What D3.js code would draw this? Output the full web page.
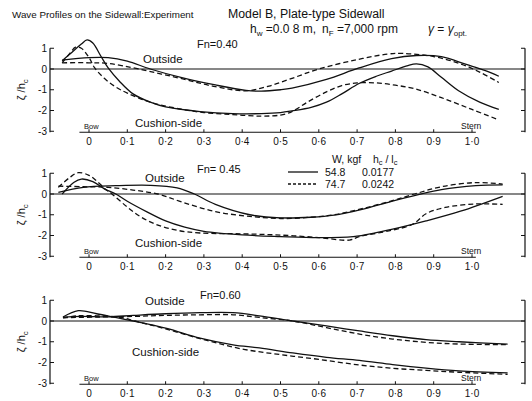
<!DOCTYPE html>
<html><head><meta charset="utf-8">
<script src="https://cdn.jsdelivr.net/npm/d3@7"></script>
<style>body{margin:0;background:#fff}svg{display:block}text{font-family:"Liberation Sans",Arial,sans-serif;fill:#111}</style>
</head><body><svg id="c" width="532" height="401"></svg>
<script>
// ---- data ----
const xTicks = [0,0.1,0.2,0.3,0.4,0.5,0.6,0.7,0.8,0.9,1.0];
const xTickLabels = ["0","0·1","0·2","0·3","0·4","0·5","0·6","0·7","0·8","0·9","1·0"];
const yTicks = [1,0,-1,-2,-3];
const froude = ["Fn=0.40","Fn= 0.45","Fn=0.60"];
const legendW = ["54.8","74.7"];
const legendRatio = ["0.0177","0.0242"];

// Fn = 0.40
const fn40OutsideW548 = [[-0.07,0.43],[0.0,0.55],[0.05,0.55],[0.1,0.38],[0.16,0.0],[0.245,-0.43],[0.33,-0.77],[0.41,-1.03],[0.45,-1.07],[0.5,-1.0],[0.53,-0.92],[0.62,-0.5],[0.705,0.05],[0.79,0.5],[0.855,0.65],[0.92,0.6],[0.985,0.22],[1.035,-0.08],[1.07,-0.35]];
const fn40OutsideW747 = [[-0.07,0.3],[0.0,0.3],[0.05,0.27],[0.13,0.0],[0.245,-0.48],[0.33,-0.85],[0.41,-1.05],[0.47,-0.82],[0.53,-0.45],[0.6,0.0],[0.7,0.45],[0.78,0.72],[0.82,0.75],[0.9,0.6],[0.97,0.25],[1.02,-0.15],[1.07,-0.65]];
const fn40CushionW548 = [[-0.07,0.4],[-0.045,0.8],[-0.02,1.2],[-0.005,1.4],[0.01,1.25],[0.03,0.65],[0.05,0.05],[0.08,-0.6],[0.115,-1.2],[0.16,-1.6],[0.2,-1.83],[0.29,-2.05],[0.375,-2.15],[0.45,-2.15],[0.5,-2.1],[0.53,-2.02],[0.58,-1.85],[0.62,-1.6],[0.66,-1.2],[0.705,-0.7],[0.75,-0.35],[0.79,-0.1],[0.83,0.15],[0.855,0.25],[0.885,0.1],[0.92,-0.4],[0.965,-1.05],[1.02,-1.6],[1.07,-1.95]];
const fn40CushionW747 = [[-0.07,0.3],[-0.05,0.75],[-0.035,1.05],[-0.02,1.0],[0.0,0.55],[0.015,0.05],[0.04,-0.45],[0.07,-0.87],[0.1,-1.16],[0.16,-1.6],[0.245,-1.95],[0.3,-2.1],[0.375,-2.2],[0.45,-2.27],[0.5,-2.22],[0.53,-2.05],[0.57,-1.6],[0.62,-1.1],[0.66,-0.8],[0.7,-0.67],[0.75,-0.67],[0.8,-0.78],[0.85,-0.95],[0.92,-1.38],[1.0,-1.95],[1.07,-2.45]];

// Fn = 0.45
const fn45OutsideW548 = [[-0.08,0.08],[-0.015,0.32],[0.07,0.4],[0.16,0.42],[0.23,0.3],[0.275,0.0],[0.33,-0.5],[0.42,-1.0],[0.5,-1.15],[0.58,-1.12],[0.64,-1.02],[0.71,-0.75],[0.79,-0.35],[0.86,-0.03],[0.92,0.21],[1.01,0.4],[1.08,0.44]];
const fn45OutsideW747 = [[-0.08,0.38],[-0.015,0.35],[0.05,0.32],[0.115,0.19],[0.18,0.0],[0.245,-0.4],[0.33,-0.85],[0.42,-1.08],[0.5,-1.18],[0.58,-1.12],[0.64,-1.0],[0.71,-0.72],[0.79,-0.33],[0.85,0.0],[0.92,0.35],[1.01,0.55],[1.08,0.48]];
const fn45CushionW548 = [[-0.07,0.0],[-0.04,0.55],[-0.02,0.72],[0.01,0.6],[0.04,0.25],[0.07,0.0],[0.1,-0.35],[0.15,-0.85],[0.2,-1.3],[0.25,-1.6],[0.3,-1.8],[0.4,-1.97],[0.5,-2.05],[0.6,-2.1],[0.69,-2.05],[0.75,-1.86],[0.81,-1.62],[0.88,-1.3],[0.97,-0.83],[1.08,-0.11]];
const fn45CushionW747 = [[-0.08,0.32],[-0.05,0.8],[-0.028,1.03],[0.0,0.9],[0.02,0.63],[0.045,0.2],[0.06,0.0],[0.1,-0.63],[0.135,-1.1],[0.18,-1.5],[0.23,-1.75],[0.29,-1.88],[0.4,-1.92],[0.5,-1.98],[0.6,-2.1],[0.68,-2.22],[0.705,-2.06],[0.79,-1.75],[0.845,-1.46],[0.88,-0.95],[0.93,-0.65],[1.01,-0.48],[1.08,-0.5]];

// Fn = 0.60
const fn60OutsideW548 = [[-0.068,0.19],[-0.02,0.22],[0.05,0.2],[0.116,0.27],[0.2,0.35],[0.29,0.4],[0.376,0.4],[0.445,0.25],[0.532,0.0],[0.62,-0.24],[0.706,-0.48],[0.793,-0.71],[0.88,-0.9],[0.966,-1.0],[1.093,-1.11]];
const fn60OutsideW747 = [[-0.068,0.16],[0.02,0.19],[0.116,0.22],[0.2,0.27],[0.29,0.3],[0.376,0.3],[0.445,0.17],[0.532,0.0],[0.62,-0.32],[0.706,-0.63],[0.793,-0.87],[0.88,-1.03],[0.966,-1.11],[1.093,-1.14]];
const fn60CushionW548 = [[-0.068,0.19],[-0.028,0.5],[0.02,0.35],[0.072,0.16],[0.116,0.0],[0.203,-0.36],[0.29,-0.83],[0.376,-1.15],[0.445,-1.3],[0.532,-1.54],[0.62,-1.75],[0.706,-1.9],[0.793,-2.1],[0.88,-2.27],[0.966,-2.4],[1.093,-2.5]];
const fn60CushionW747 = [[-0.068,0.15],[-0.03,0.25],[0.02,0.25],[0.08,0.18],[0.12,0.0],[0.2,-0.38],[0.3,-0.9],[0.4,-1.35],[0.5,-1.62],[0.6,-1.85],[0.706,-2.12],[0.793,-2.28],[0.88,-2.38],[0.966,-2.47],[1.093,-2.57]];

const panels = [
  {fn: froude[0], series:[fn40OutsideW548, fn40OutsideW747, fn40CushionW548, fn40CushionW747]},
  {fn: froude[1], series:[fn45OutsideW548, fn45OutsideW747, fn45CushionW548, fn45CushionW747]},
  {fn: froude[2], series:[fn60OutsideW548, fn60OutsideW747, fn60CushionW548, fn60CushionW747]}
];

// ---- layout ----
const svg = d3.select("#c");
const ink = "#111";
const x = d3.scaleLinear().domain([0,1]).range([89,472]);
const zeroY = [69,194,321];
const unit = 20.75;
const layout = [
  {fnX:197, fnY:48, outX:143, outY:63, cushX:135, cushY:127},
  {fnX:197, fnY:173, outX:145, outY:182, cushX:135, cushY:247},
  {fnX:200, fnY:299, outX:145, outY:305, cushX:132, cushY:356}
];
const axL = 50, axR = 525;

function sub(el, txt){ el.append("tspan").attr("font-size",8).attr("dy",2.5).text(txt); }
function after(el, txt){ el.append("tspan").attr("dy",-2.5).text(txt); }

// titles
svg.append("text").attr("x",12).attr("y",18).attr("font-size",9.8).text("Wave Profiles on the Sidewall:Experiment");
svg.append("text").attr("x",228).attr("y",18).attr("font-size",12.3).text("Model B, Plate-type  Sidewall");
const ta = svg.append("text").attr("x",250).attr("y",33).attr("font-size",12);
ta.append("tspan").text("h"); sub(ta,"w"); after(ta," =0.0 8 m,");
const tb = svg.append("text").attr("x",322).attr("y",33).attr("font-size",12);
tb.append("tspan").text("n"); sub(tb,"F"); after(tb," =7,000 rpm");
const tc = svg.append("text").attr("x",428).attr("y",33).attr("font-size",12);
tc.append("tspan").attr("font-style","italic").text("γ");
tc.append("tspan").text(" = ");
tc.append("tspan").attr("font-style","italic").text("γ");
sub(tc,"opt.");

panels.forEach((p,i)=>{
  const y0 = zeroY[i];
  const y = d3.scaleLinear().domain([-3,1]).range([y0+3*unit, y0-unit]);
  const g = svg.append("g");
  const L = layout[i];
  // left axis
  g.append("line").attr("x1",axL).attr("x2",axL).attr("y1",y(1)).attr("y2",y(-3)+1).attr("stroke",ink).attr("stroke-width",1.2);
  yTicks.forEach(t=>{
    g.append("line").attr("x1",axL).attr("x2",axL+4).attr("y1",y(t)).attr("y2",y(t)).attr("stroke",ink).attr("stroke-width",1);
    g.append("text").attr("x",axL-3).attr("y",y(t)+3.5).attr("text-anchor","end").attr("font-size",10).text(t<0?"-"+(-t):t);
  });
  // right bracket
  g.append("line").attr("x1",axR).attr("x2",axR).attr("y1",y(1)).attr("y2",y(-3)+1).attr("stroke",ink).attr("stroke-width",1.2);
  yTicks.forEach(t=>{
    g.append("line").attr("x1",axR-4).attr("x2",axR).attr("y1",y(t)).attr("y2",y(t)).attr("stroke",ink).attr("stroke-width",1);
  });
  // zero line
  g.append("line").attr("x1",axL).attr("x2",axR).attr("y1",y(0)).attr("y2",y(0)).attr("stroke",ink).attr("stroke-width",1.1);
  // bottom ship-length axis
  const yb = y(-3)+1;
  g.append("line").attr("x1",x(-0.025)).attr("x2",x(1.01)).attr("y1",yb).attr("y2",yb).attr("stroke",ink).attr("stroke-width",1.1);
  xTicks.forEach((t,k)=>{
    g.append("line").attr("x1",x(t)).attr("x2",x(t)).attr("y1",yb).attr("y2",yb-3).attr("stroke",ink).attr("stroke-width",1);
    g.append("text").attr("x",x(t)).attr("y",yb+13).attr("text-anchor","middle").attr("font-size",10).text(xTickLabels[k]);
  });
  g.append("text").attr("x",x(0)-5).attr("y",yb-3).attr("font-size",7.5).text("Bow");
  g.append("text").attr("x",x(1)-11).attr("y",yb-3).attr("font-size",8.5).text("Stern");
  // y label
  const yl = g.append("text").attr("transform",`translate(25,${y(-1)}) rotate(-90)`).attr("text-anchor","middle").attr("font-size",11);
  yl.append("tspan").text("ζ /h");
  yl.append("tspan").attr("font-size",8).attr("dy",2.5).text("c");
  // labels
  g.append("text").attr("x",L.fnX).attr("y",L.fnY).attr("font-size",11).text(p.fn);
  g.append("text").attr("x",L.outX).attr("y",L.outY).attr("font-size",11.5).text("Outside");
  g.append("text").attr("x",L.cushX).attr("y",L.cushY).attr("font-size",11.5).text("Cushion-side");
  // curves
  const line = d3.line().x(d=>x(d[0])).y(d=>y(d[1])).curve(d3.curveCatmullRom.alpha(0.5));
  p.series.forEach((s,k)=>{
    g.append("path").attr("d",line(s)).attr("fill","none").attr("stroke",ink).attr("stroke-width",1.3)
      .attr("stroke-dasharray", k%2===1 ? "5,3" : null);
  });
});

// legend
const lg = svg.append("g").attr("font-size",10.5);
lg.append("text").attr("x",332).attr("y",163).text("W, kgf");
const hl = lg.append("text").attr("x",373).attr("y",163);
hl.append("tspan").text("h");
hl.append("tspan").attr("font-size",7.5).attr("dy",2).text("c");
hl.append("tspan").attr("dy",-2).text(" / l");
hl.append("tspan").attr("font-size",7.5).attr("dy",2).text("c");
legendW.forEach((w,k)=>{
  const yy = 176 + k*12;
  lg.append("line").attr("x1",288).attr("x2",318).attr("y1",yy-4).attr("y2",yy-4).attr("stroke",ink).attr("stroke-width",1.3)
    .attr("stroke-dasharray", k===1 ? "3,2" : null);
  lg.append("text").attr("x",325).attr("y",yy).text(w);
  lg.append("text").attr("x",362).attr("y",yy).text(legendRatio[k]);
});
</script></body></html>
